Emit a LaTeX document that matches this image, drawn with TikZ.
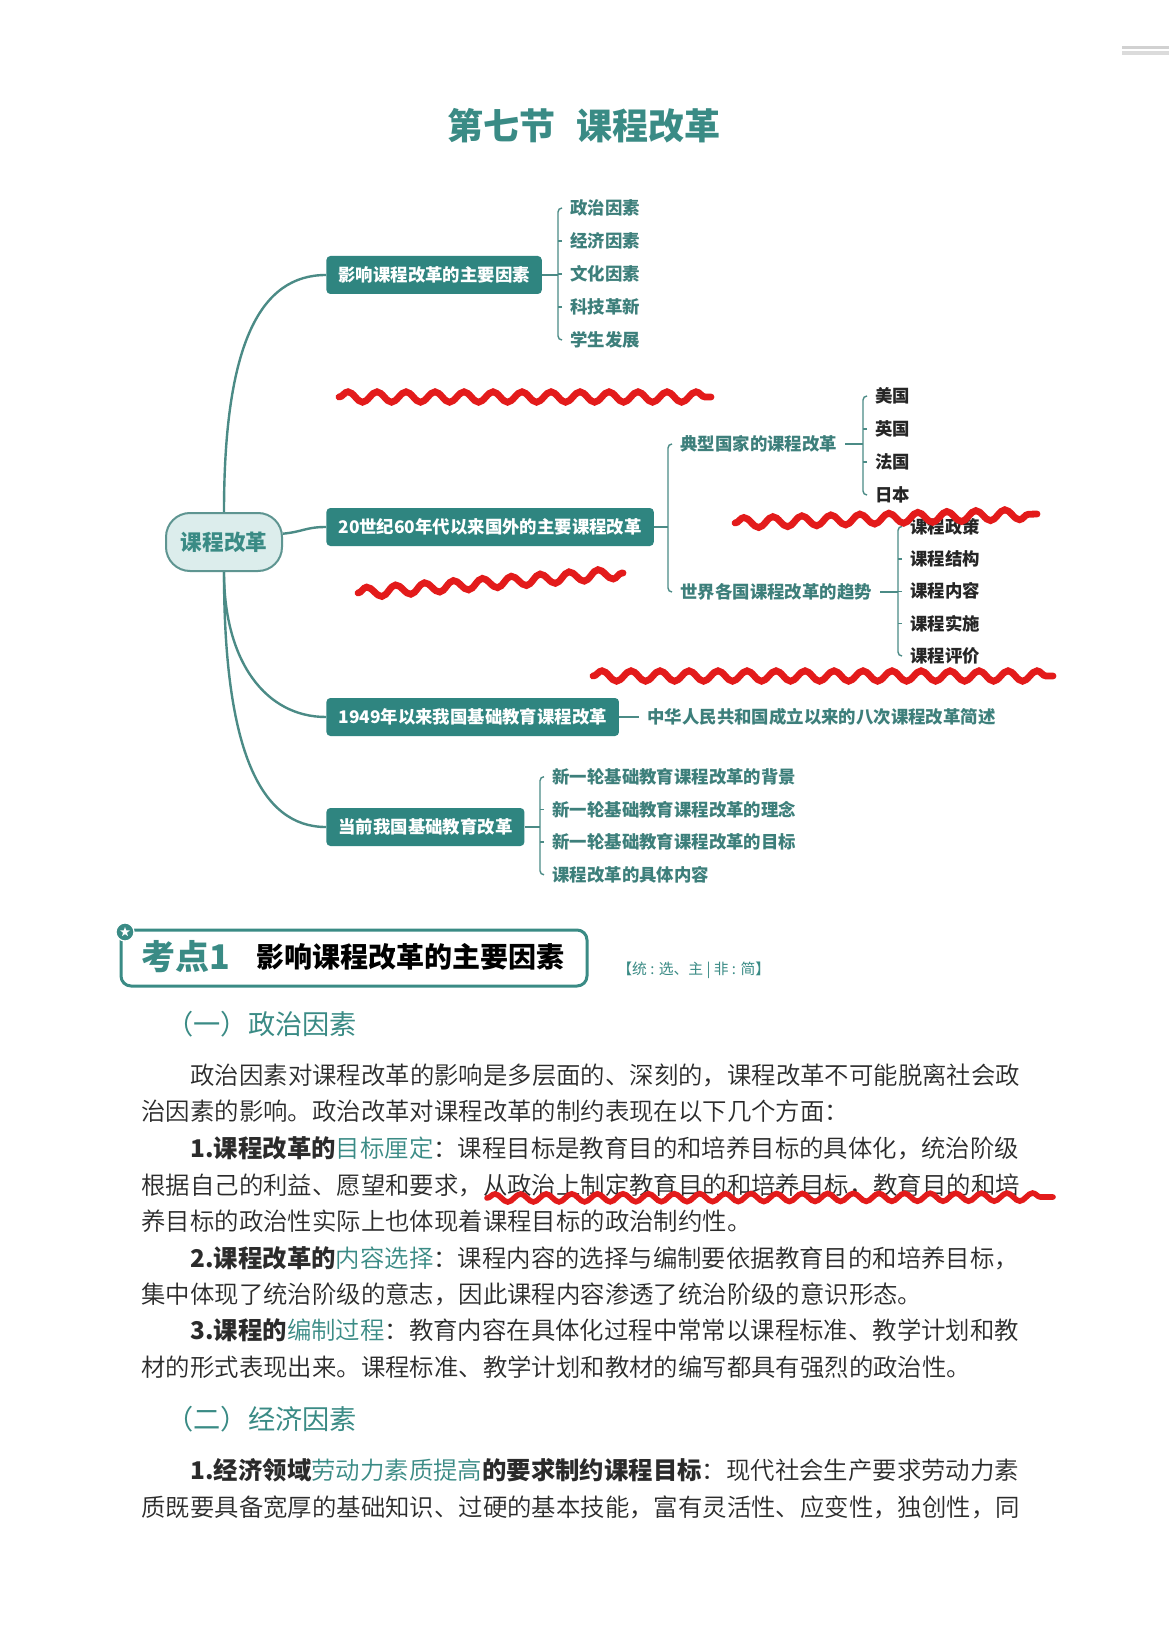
\documentclass[tikz,border=0pt]{standalone}
\usepackage{fontspec}
\setmainfont{Noto Sans CJK SC}
\newfontfamily\bodyfont{Noto Sans CJK SC DemiLight}
\usepackage{xcolor}
\definecolor{boxteal}{HTML}{2F8580}
\definecolor{headteal}{HTML}{3A8B85}
\definecolor{leafteal}{HTML}{3D7F7B}
\definecolor{rootfill}{HTML}{DCEDEC}
\definecolor{rootline}{HTML}{5E9591}
\definecolor{linkteal}{HTML}{4B8B86}
\definecolor{markred}{HTML}{E31B1B}
\definecolor{bodytext}{HTML}{2B2B2B}
\usepackage{tikz}
\usetikzlibrary{decorations.pathmorphing,shapes.geometric}
\XeTeXlinebreaklocale "zh"
\XeTeXlinebreakskip=0pt plus 1pt minus 0.1pt
\setlength{\parindent}{0pt}
\newcommand{\kwd}[1]{\textcolor{headteal}{#1}}

\begin{document}
\begin{tikzpicture}[x=0.5pt, y=-0.5pt,
  every node/.style={inner sep=0pt},
  branch/.style={anchor=west, fill=boxteal, text=white, rounded corners=2pt, inner xsep=6pt, minimum height=19pt, font=\fontsize{8.7}{10}\selectfont\bfseries},
  leaf/.style={anchor=west, inner xsep=4pt, text=leafteal, font=\fontsize{8.7}{10}\selectfont\bfseries},
  dark/.style={leaf, text=black!85},
  link/.style={draw=linkteal, line width=1.2pt},
  brace/.style={draw=linkteal, line width=0.7pt, rounded corners=2pt},
  body/.style={anchor=west, text=bodytext, font=\fontsize{12.2}{14}\selectfont\bodyfont},
  just/.style={body, text width=#1, align=justify},
  wave/.style={draw=markred, line width=3.4pt, line cap=round, decorate, decoration={snake, segment length=14.5pt, amplitude=2.6pt}}]
\fill[white] (0,0) rectangle (1169,1652);
\useasboundingbox (0,0) rectangle (1169,1652);
\fill[black!18] (1122,46) rectangle (1169,49);
\fill[black!14] (1122,51) rectangle (1169,55);
\node[text=headteal, font=\fontsize{18}{20}\selectfont\bfseries] (title) at (584,126) {第七节\hspace{0.6em}课程改革};
\node[draw=rootline, fill=rootfill, line width=1pt, rounded corners=12pt, minimum width=58pt, minimum height=29pt, text=headteal, font=\fontsize{10.8}{12}\selectfont\bfseries] (root) at (224,542) {课程改革};
\node[branch] (inf) at (326,275) {影响课程改革的主要因素};
\node[branch] (abr) at (326,527) {20世纪60年代以来国外的主要课程改革};
\node[branch] (chn) at (326,717) {1949年以来我国基础教育课程改革};
\node[branch] (now) at (326,827) {当前我国基础教育改革};
\draw[link] (root.north) .. controls +(0,-170) and +(-65,0) .. (inf.west);
\draw[link] (root.8) .. controls +(20,-2) and +(-20,0) .. (abr.west);
\draw[link] (root.south) .. controls +(0,90) and +(-60,0) .. (chn.west);
\draw[link] (root.south) .. controls +(0,180) and +(-65,0) .. (now.west);
\foreach \t [count=\i] in {政治因素,经济因素,文化因素,科技革新,学生发展}
  \node[leaf] (f\i) at (562,175+33*\i) {\t};
\draw[brace] (f1.west) -- ++(-2pt,0) |- (f5.west);
\foreach \i in {2,3,4}
  \draw[brace] (f\i.west) -- ++(-2pt,0);
\coordinate (fk) at ([xshift=-2pt]f1.west);
\draw[brace] (inf.east) -- (inf.east -| fk);
\node[leaf] (ty) at (672,444) {典型国家的课程改革};
\node[leaf] (tr) at (672,592) {世界各国课程改革的趋势};
\draw[brace] (ty.west) -- ++(-2pt,0) |- (tr.west);
\coordinate (ak) at ([xshift=-2pt]ty.west);
\draw[brace] (abr.east) -- (abr.east -| ak);
\foreach \t [count=\i] in {美国,英国,法国,日本}
  \node[dark] (c\i) at (867,363+33*\i) {\t};
\draw[brace] (c1.west) -- ++(-2pt,0) |- (c4.west);
\foreach \i in {2,3}
  \draw[brace] (c\i.west) -- ++(-2pt,0);
\coordinate (ck) at ([xshift=-2pt]c1.west);
\draw[brace] (ty.east) -- (ty.east -| ck);
\foreach \t [count=\i] in {课程政策,课程结构,课程内容,课程实施,课程评价}
  \node[dark] (t\i) at (902,494+32.4*\i) {\t};
\draw[brace] (t1.west) -- ++(-2pt,0) |- (t5.west);
\foreach \i in {2,3,4}
  \draw[brace] (t\i.west) -- ++(-2pt,0);
\coordinate (tk) at ([xshift=-2pt]t1.west);
\draw[brace] (tr.east) -- (tr.east -| tk);
\node[leaf] (ba) at (639,717) {中华人民共和国成立以来的八次课程改革简述};
\draw[brace] (chn.east) -- (ba.west);
\foreach \t [count=\i] in {新一轮基础教育课程改革的背景,新一轮基础教育课程改革的理念,新一轮基础教育课程改革的目标,课程改革的具体内容}
  \node[leaf] (n\i) at (544,744+32.7*\i) {\t};
\draw[brace] (n1.west) -- ++(-2pt,0) |- (n4.west);
\foreach \i in {2,3}
  \draw[brace] (n\i.west) -- ++(-2pt,0);
\coordinate (nk) at ([xshift=-2pt]n1.west);
\draw[brace] (now.east) -- (now.east -| nk);
\draw[draw=headteal, line width=1.5pt, rounded corners=5pt] (121,930) rectangle (587,986);
\node[circle, fill=headteal, draw=white, line width=0.6pt, minimum size=9pt] (badge) at (125,932) {};
\node[star, star points=5, star point ratio=2.4, fill=white, minimum size=5pt] at (badge) {};
\node[anchor=west, text=headteal, font=\fontsize{17}{19}\selectfont\bfseries] (kd) at (141,957) {考点1};
\node[anchor=west, text=black, font=\fontsize{14}{16}\selectfont\bfseries] (kt) at (256,957) {影响课程改革的主要因素};
\node[anchor=west, text=headteal, font=\fontsize{7.4}{8}\selectfont] (tag) at (617,970) {【统 : 选、主 | 非 : 简】};
\node[anchor=west, text=headteal, font=\fontsize{13.6}{15}\selectfont] (s1) at (166,1024) {（一）政治因素};
\node[just=419pt] (p1) at (190,1075) {\parfillskip=0pt 政治因素对课程改革的影响是多层面的、深刻的，课程改革不可能脱离社会政};
\node[body] (p2) at (141,1111) {治因素的影响。政治改革对课程改革的制约表现在以下几个方面：};
\node[just=419pt] (p3) at (190,1148) {\parfillskip=0pt {\normalfont\bfseries 1.课程改革的}\kwd{目标厘定}：课程目标是教育目的和培养目标的具体化，统治阶级};
\node[just=443.5pt] (p4) at (141,1185) {\parfillskip=0pt 根据自己的利益、愿望和要求，从政治上制定教育目的和培养目标，教育目的和培};
\node[body] (p5) at (141,1221) {养目标的政治性实际上也体现着课程目标的政治制约性。};
\node[just=419pt] (p6) at (190,1258) {\parfillskip=0pt {\normalfont\bfseries 2.课程改革的}\kwd{内容选择}：课程内容的选择与编制要依据教育目的和培养目标，};
\node[body] (p7) at (141,1294) {集中体现了统治阶级的意志，因此课程内容渗透了统治阶级的意识形态。};
\node[just=419pt] (p8) at (190,1330) {\parfillskip=0pt {\normalfont\bfseries 3.课程的}\kwd{编制过程}：教育内容在具体化过程中常常以课程标准、教学计划和教};
\node[body] (p9) at (141,1367) {材的形式表现出来。课程标准、教学计划和教材的编写都具有强烈的政治性。};
\node[anchor=west, text=headteal, font=\fontsize{13.6}{15}\selectfont] (s2) at (166,1419) {（二）经济因素};
\node[just=419pt] (q1) at (190,1470) {\parfillskip=0pt {\normalfont\bfseries 1.经济领域}\kwd{劳动力素质提高}{\normalfont\bfseries 的要求制约课程目标}：现代社会生产要求劳动力素};
\node[just=443.5pt] (q2) at (141,1507) {\parfillskip=0pt 质既要具备宽厚的基础知识、过硬的基本技能，富有灵活性、应变性，独创性，同};
\draw[wave] (339,397) -- (711,397);
\draw[wave] (735,523) -- (1037,514);
\draw[wave] (358,593) -- (623,573);
\draw[wave] (593,676) -- (1053,676);
\draw[wave, line width=2.8pt, decoration={snake, segment length=12.8pt, amplitude=2pt}] (487,1198) -- (1053,1197);
\end{tikzpicture}
\end{document}
